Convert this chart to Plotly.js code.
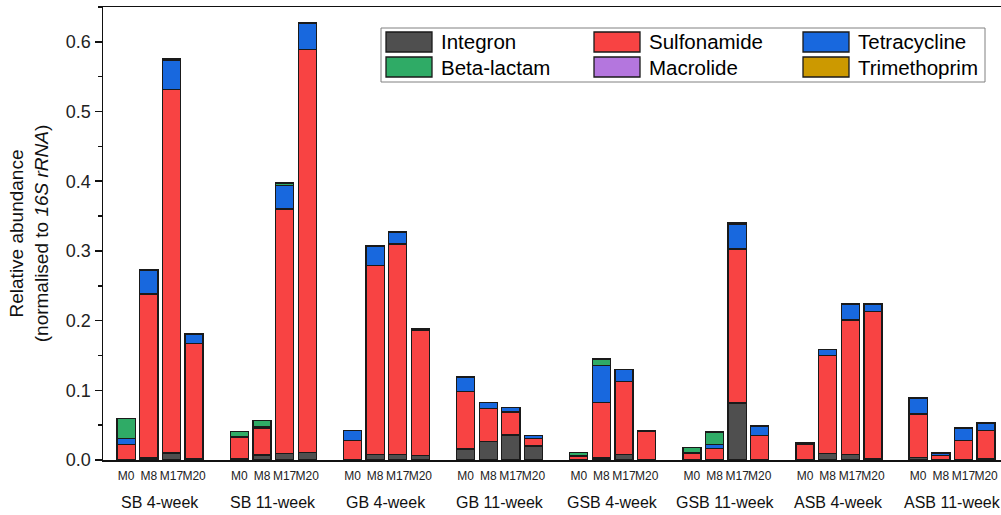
<!DOCTYPE html>
<html>
<head>
<meta charset="utf-8">
<script src="https://cdn.plot.ly/plotly-3.0.1.min.js"></script>
<style>html,body{margin:0;padding:0;background:#fff}#chart{width:1001px;height:515px}</style>
</head>
<body>
<div id="chart"></div>
<script>
// ---- data ----
const groups = ["SB 4-week", "SB 11-week", "GB 4-week", "GB 11-week", "GSB 4-week", "GSB 11-week", "ASB 4-week", "ASB 11-week"];
const samples = ["M0", "M8", "M17", "M20"];
const seriesNames = ["Integron", "Sulfonamide", "Tetracycline", "Beta-lactam", "Macrolide", "Trimethoprim"];
const seriesColors = ["#4f4f4f", "#f84343", "#1868de", "#2fab66", "#b476de", "#cc9900"];

// values ordered group by group, each M0, M8, M17, M20
const integron = [
  0.001, 0.003, 0.010, 0.002,
  0.0015, 0.007, 0.009, 0.0105,
  0.001, 0.0075, 0.008, 0.0065,
  0.016, 0.027, 0.036, 0.020,
  0.001, 0.003, 0.008, 0.001,
  0.001, 0.001, 0.082, 0.001,
  0.001, 0.009, 0.0075, 0.002,
  0.004, 0.001, 0.001, 0.002
];
const sulfonamide = [
  0.021, 0.235, 0.522, 0.165,
  0.0305, 0.039, 0.351, 0.579,
  0.0274, 0.2715, 0.302, 0.179,
  0.082, 0.047, 0.033, 0.011,
  0.004, 0.0794, 0.1045, 0.040,
  0.008, 0.0155, 0.2206, 0.034,
  0.021, 0.1407, 0.1935, 0.211,
  0.062, 0.0054, 0.0265, 0.040
];
const tetracycline = [
  0.009, 0.0345, 0.042, 0.014,
  0.001, 0.002, 0.034, 0.0365,
  0.0136, 0.028, 0.016, 0.0025,
  0.020, 0.009, 0.0067, 0.004,
  0.001, 0.0534, 0.0172, 0.001,
  0.001, 0.0055, 0.0354, 0.0126,
  0.0026, 0.0086, 0.023, 0.011,
  0.023, 0.0036, 0.0185, 0.011
];
const betaLactam = [
  0.029, 0, 0, 0,
  0.008, 0.009, 0.003, 0,
  0, 0, 0, 0,
  0, 0, 0, 0,
  0.005, 0.0092, 0, 0,
  0.008, 0.018, 0, 0.0024,
  0, 0, 0, 0,
  0, 0, 0, 0
];
const macrolide = [
  0, 0, 0, 0,
  0, 0, 0, 0,
  0, 0, 0, 0,
  0, 0, 0, 0,
  0, 0, 0, 0,
  0, 0, 0, 0,
  0, 0, 0, 0,
  0, 0, 0, 0
];
const trimethoprim = [
  0, 0, 0.002, 0,
  0, 0, 0.0015, 0.002,
  0, 0, 0.0015, 0.001,
  0.0015, 0, 0, 0,
  0, 0, 0, 0,
  0, 0, 0.002, 0,
  0, 0, 0, 0,
  0, 0, 0, 0
];
const seriesValues = [integron, sulfonamide, tetracycline, betaLactam, macrolide, trimethoprim];

// ---- layout helpers ----
const slotsPerGroup = samples.length + 1; // one empty slot between groups
const xPos = [], xText = [];
groups.forEach((g, gi) => samples.forEach((s, si) => { xPos.push(gi * slotsPerGroup + si); xText.push(s); }));

const font = "Liberation Sans, Arial, sans-serif";

const traces = seriesNames.map((name, k) => ({
  type: "bar",
  name: name,
  x: xPos,
  y: seriesValues[k],
  width: 0.8,
  marker: { color: seriesColors[k], line: { color: "#1a1a1a", width: 1.3 } },
  showlegend: false,
  hoverinfo: "name+y"
}));

// group labels
const annotations = groups.map((g, gi) => ({
  text: g, xref: "x", yref: "paper",
  x: gi * slotsPerGroup + (samples.length - 1) / 2, y: -0.093,
  xanchor: "center", yanchor: "middle", showarrow: false,
  font: { family: font, size: 16, color: "#111" }
}));

// manual legend (3 columns x 2 rows)
const pw = 898, ph = 453;
const px = v => (v - 103) / pw, py = v => (460 - v) / ph;
const shapes = [{
  type: "rect", xref: "paper", yref: "paper",
  x0: px(381), x1: px(985), y0: py(82), y1: py(28),
  line: { color: "#808080", width: 1 }, fillcolor: "rgba(0,0,0,0)"
}];
const colX = [386, 594, 803];
const rowY = [42, 67];
seriesNames.forEach((name, k) => {
  const c = k % 3, r = Math.floor(k / 3);
  shapes.push({
    type: "rect", xref: "paper", yref: "paper",
    x0: px(colX[c]), x1: px(colX[c] + 46), y0: py(rowY[r] + 10), y1: py(rowY[r] - 10),
    fillcolor: seriesColors[k], line: { color: "#1a1a1a", width: 1.3 }
  });
  annotations.push({
    text: name, xref: "paper", yref: "paper",
    x: px(colX[c] + 53), y: py(rowY[r]), xanchor: "left", yanchor: "middle",
    showarrow: false, font: { family: font, size: 20.5, color: "#000" }
  });
});

const layout = {
  width: 1001, height: 515,
  margin: { l: 103, r: 0, t: 7, b: 55 },
  paper_bgcolor: "#fff", plot_bgcolor: "#fff",
  barmode: "stack",
  font: { family: font, color: "#111" },
  xaxis: {
    range: [-1.025, 38.66], tickvals: xPos, ticktext: xText, tickangle: 0,
    ticks: "", showgrid: false, zeroline: false,
    showline: true, mirror: true, linecolor: "#111", linewidth: 1.5,
    tickfont: { family: font, size: 12, color: "#222" }, ticklabelstandoff: 4
  },
  yaxis: {
    range: [0, 0.65], dtick: 0.1, tick0: 0, tickformat: ".1f",
    ticks: "outside", ticklen: 7, tickwidth: 1.5, tickcolor: "#111",
    minor: { dtick: 0.05, ticks: "outside", ticklen: 4, tickwidth: 1.5, tickcolor: "#111" },
    showgrid: false, zeroline: false,
    showline: true, linecolor: "#111", linewidth: 1.5,
    tickfont: { family: font, size: 18, color: "#222" },
    title: { text: "Relative abundance<br>(normalised to <i>16S rRNA</i>)", font: { family: font, size: 19, color: "#111" }, standoff: 12 }
  },
  annotations: annotations,
  shapes: shapes
};

Plotly.newPlot("chart", traces, layout, { displayModeBar: false, staticPlot: true });
</script>
</body>
</html>
